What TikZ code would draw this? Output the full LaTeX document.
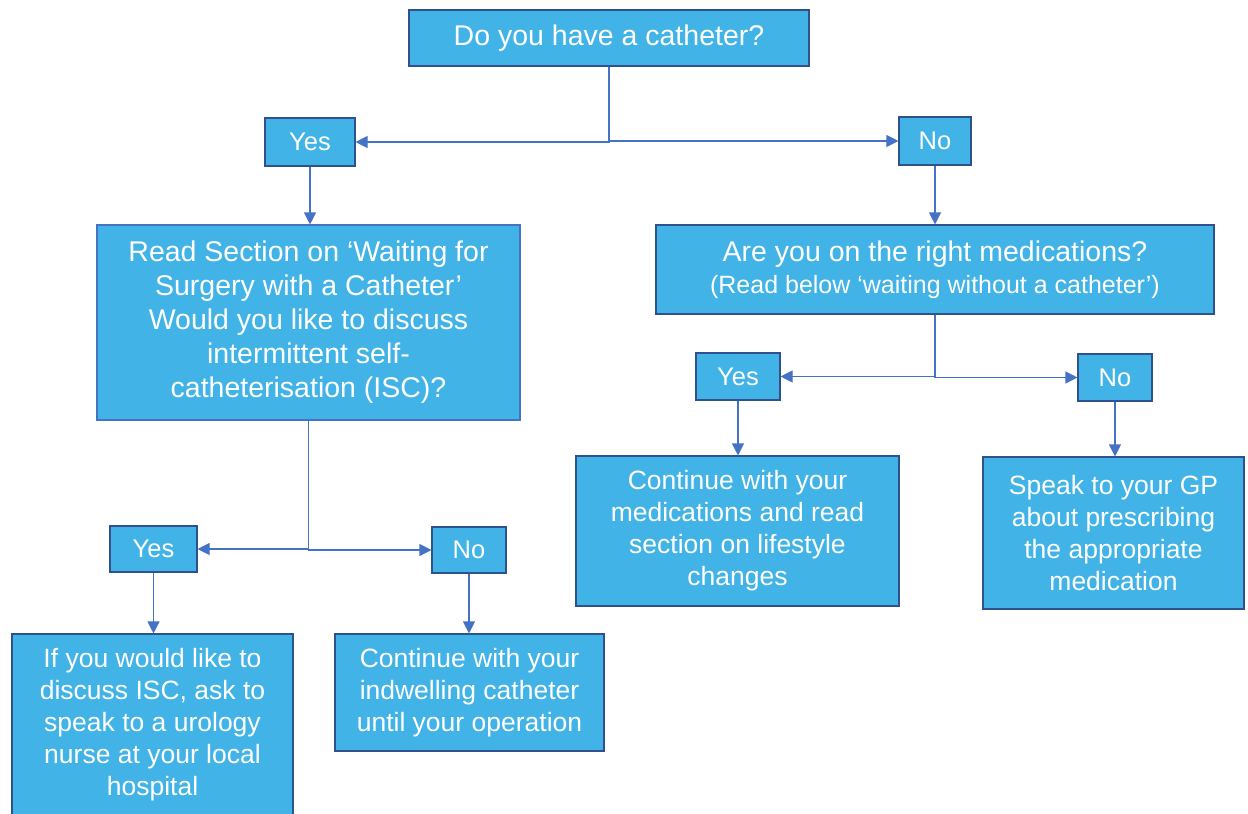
\documentclass[tikz,border=0pt]{standalone}
\usepackage{fontspec}
\setmainfont{Liberation Sans}
\usetikzlibrary{arrows.meta}
\definecolor{boxfill}{RGB}{65,179,230}
\definecolor{boxline}{RGB}{47,82,143}
\definecolor{boxlinelight}{RGB}{68,114,196}
\definecolor{conn}{RGB}{68,114,196}
\tikzset{
  flowbox/.style={draw=boxline, line width=1.1pt, fill=boxfill, text=white, align=center, inner sep=2pt, rectangle},
  bigtext/.style={font=\fontsize{28.5}{34}\selectfont},
  midtext/.style={font=\fontsize{26.5}{32}\selectfont},
  yntext/.style={font=\fontsize{25.5}{30}\selectfont},
  arr/.style={draw=conn, line width=1.1pt, -{Triangle[length=12pt,width=12pt]}},
  plain/.style={draw=conn, line width=1.1pt}
}
\begin{document}
\begin{tikzpicture}[x=1pt,y=-1pt]
\useasboundingbox (0,0) rectangle (1248,814);
\node[flowbox,bigtext,minimum width=400pt,minimum height=56pt] (top) at (609,38) {Do you have a catheter?};
\node[flowbox,yntext,minimum width=90pt,minimum height=48pt] (yes1) at (310,142) {Yes};
\node[flowbox,yntext,minimum width=72pt,minimum height=48pt] (no1) at (935,141) {No};
\node[flowbox,bigtext,draw=boxlinelight,minimum width=423pt,minimum height=195pt] (read) at (308.5,322.5) {Read Section on ‘Waiting for\\Surgery with a Catheter’\\Would you like to discuss\\intermittent self-\\catheterisation (ISC)?};
\node[flowbox,font=\fontsize{25}{32}\selectfont,minimum width=558pt,minimum height=89pt] (meds) at (935,269.5) {{\fontsize{28.5}{32}\selectfont Are you on the right medications?}\\(Read below ‘waiting without a catheter’)};
\node[flowbox,yntext,minimum width=84pt,minimum height=47pt] (yes2) at (738,376.5) {Yes};
\node[flowbox,yntext,minimum width=74pt,minimum height=47pt] (no2) at (1115,377.5) {No};
\node[flowbox,midtext,minimum width=323pt,minimum height=150pt] (cont) at (737.5,531) {Continue with your\\medications and read\\section on lifestyle\\changes};
\node[flowbox,midtext,minimum width=261pt,minimum height=152pt] (gp) at (1113.5,533) {Speak to your GP\\about prescribing\\the appropriate\\medication};
\node[flowbox,yntext,minimum width=87pt,minimum height=46pt] (yes3) at (153.5,549) {Yes};
\node[flowbox,yntext,minimum width=74pt,minimum height=46pt] (no3) at (469,550) {No};
\node[flowbox,midtext,minimum width=281pt,minimum height=182pt] (isc) at (152.5,725) {If you would like to\\discuss ISC, ask to\\speak to a urology\\nurse at your local\\hospital};
\node[flowbox,midtext,minimum width=269pt,minimum height=117pt] (indw) at (469.5,692.5) {Continue with your\\indwelling catheter\\until your operation};
% connectors
\draw[arr] (top.south) |- (yes1.east);
\draw[arr] (top.south) |- (no1.west);
\draw[arr] (yes1.south) -- (yes1.south |- read.north);
\draw[arr] (no1.south) -- (no1.south |- meds.north);
\draw[arr] (meds.south) |- (yes2.east);
\draw[arr] (meds.south) |- (no2.west);
\draw[arr] (yes2.south) -- (yes2.south |- cont.north);
\draw[arr] (no2.south) -- (no2.south |- gp.north);
\draw[arr] (read.south) |- (yes3.east);
\draw[arr] (read.south) |- (no3.west);
\draw[arr] (yes3.south) -- (yes3.south |- isc.north);
\draw[arr] (no3.south) -- (no3.south |- indw.north);
\end{tikzpicture}
\end{document}
